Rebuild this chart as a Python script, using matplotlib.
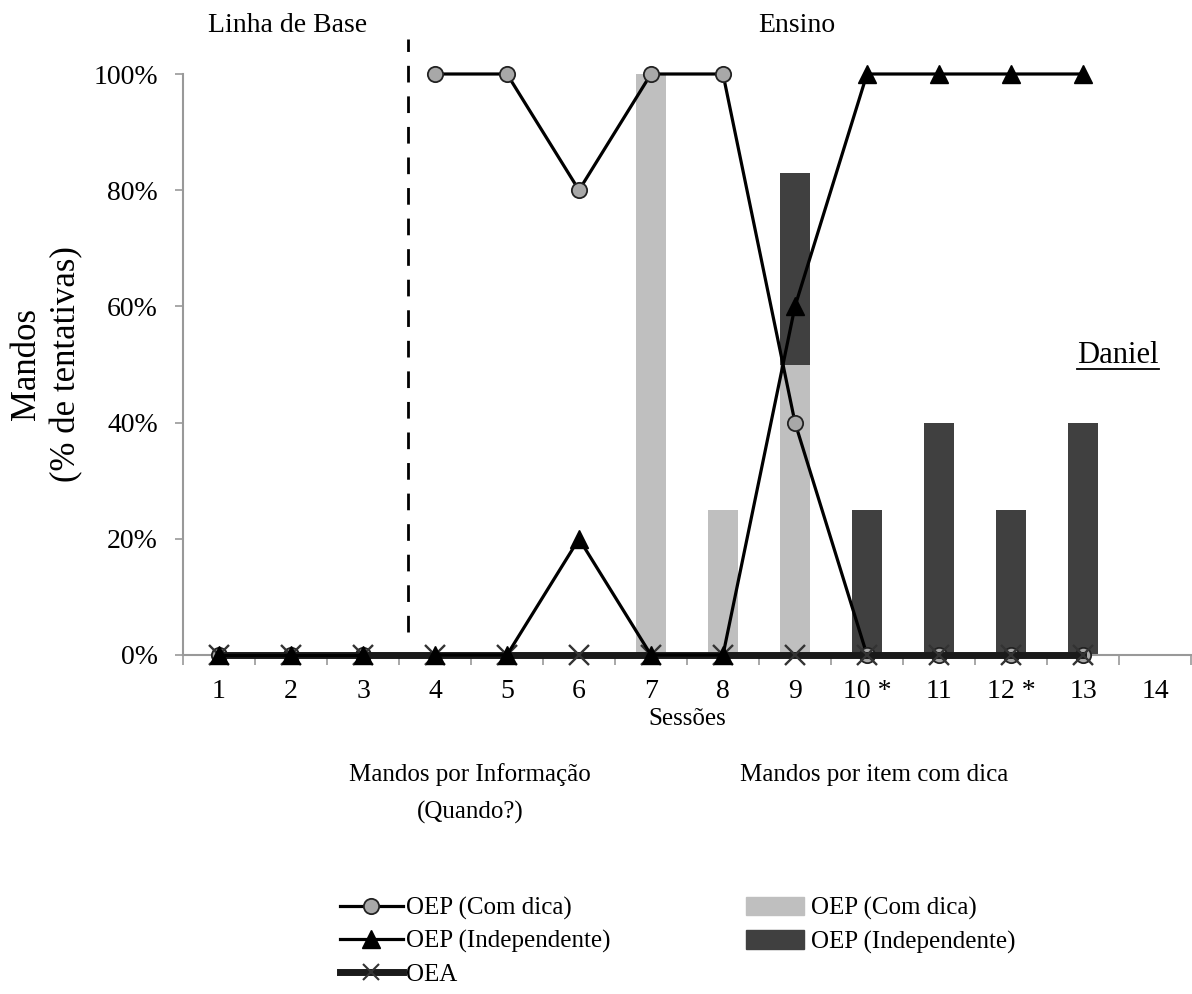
import matplotlib
matplotlib.use('Agg')
import matplotlib.pyplot as plt
from matplotlib.lines import Line2D
from matplotlib.patches import Patch

plt.rcParams['font.family'] = ['Liberation Serif', 'DejaVu Serif']

# dados
sessoes = list(range(1, 15))
rotulos = ['1', '2', '3', '4', '5', '6', '7', '8', '9', '10 *', '11', '12 *', '13', '14']

sess_base = [1, 2, 3]
sess_ensino = [4, 5, 6, 7, 8, 9, 10, 11, 12, 13]
info_dica_base = [0, 0, 0]
info_dica_ensino = [100, 100, 80, 100, 100, 40, 0, 0, 0, 0]
info_indep_base = [0, 0, 0]
info_indep_ensino = [0, 0, 20, 0, 0, 60, 100, 100, 100, 100]
sess_oea = [1, 2, 3, 4, 5, 6, 7, 8, 9, 10, 11, 12, 13]
oea = [0, 0, 0, 0, 0, 0, 0, 0, 0, 0, 0, 0, 0]

sess_barras = [7, 8, 9, 10, 11, 12, 13]
item_dica = [100, 25, 50, 0, 0, 0, 0]
item_indep = [0, 0, 33, 25, 40, 25, 40]

W, H = 1192, 994
fig = plt.figure(figsize=(W / 100, H / 100), dpi=100)
ax = fig.add_axes([183 / W, 1 - 655 / H, 1008 / W, 581 / H])

# barras empilhadas
ax.bar(sess_barras, item_dica, width=0.42, color='#bfbfbf', zorder=1)
ax.bar(sess_barras, item_indep, width=0.42, bottom=item_dica, color='#404040', zorder=1)

# linhas
circ = dict(color='black', lw=2.3, marker='o', ms=11, mfc='#a8a8a8', mec='#222222', mew=1.3)
tri = dict(color='black', lw=2.3, marker='^', ms=12.5, mfc='black', mec='black')
xs = dict(color='#1a1a1a', lw=5, marker='x', ms=14, mew=1.7, mec='#333333')
ax.plot(sess_base, info_dica_base, zorder=3, clip_on=False, **circ)
ax.plot(sess_ensino, info_dica_ensino, zorder=3, clip_on=False, **circ)
ax.plot(sess_oea, oea, zorder=4, clip_on=False, **xs)
ax.plot(sess_base, info_indep_base, zorder=5, clip_on=False, **tri)
ax.plot(sess_ensino, info_indep_ensino, zorder=5, clip_on=False, **tri)

# linha de mudanca de fase
ax.plot([3.62, 3.62], [4, 106], color='black', lw=2, ls=(0, (6, 5)), clip_on=False, zorder=2)

ax.set_xlim(0.5, 14.5)
ax.set_ylim(0, 100)
ax.set_xticks(sessoes)
ax.set_xticklabels(rotulos, fontsize=20)
ax.set_xticks([s + 0.5 for s in range(0, 15)], minor=True)
ax.tick_params(axis='x', which='major', length=0, pad=17)
ax.tick_params(axis='x', which='minor', length=7, width=1.2, color='#999999', direction='out')
ax.set_yticks([0, 20, 40, 60, 80, 100])
ax.set_yticklabels(['0%', '20%', '40%', '60%', '80%', '100%'], fontsize=20)
ax.tick_params(axis='y', length=6, width=1.2, color='#999999', pad=12)

for s in ['top', 'right']:
    ax.spines[s].set_visible(False)
for s in ['left', 'bottom']:
    ax.spines[s].set_color('#999999')
    ax.spines[s].set_linewidth(1.5)

ax.set_xlabel('Sessões', fontsize=18, labelpad=3)
ax.set_ylabel('Mandos\n(% de tentativas)', fontsize=25, labelpad=7, linespacing=1.3)

# textos
fig.text(288 / W, 1 - 25 / H, 'Linha de Base', fontsize=20, ha='center', va='center')
fig.text(797 / W, 1 - 25 / H, 'Ensino', fontsize=20, ha='center', va='center')
dan = fig.text(1118 / W, 1 - 355 / H, 'Daniel', fontsize=22, ha='center', va='center')
fig.canvas.draw()
bb = dan.get_window_extent().transformed(fig.transFigure.inverted())
fig.add_artist(Line2D([bb.x0, bb.x1], [bb.y0 + 0.001, bb.y0 + 0.001], color='black', lw=1.3))

# legendas
fig.text(470 / W, 1 - 775 / H, 'Mandos por Informação', fontsize=18, ha='center', va='center')
fig.text(470 / W, 1 - 812 / H, '(Quando?)', fontsize=18, ha='center', va='center')
fig.text(740 / W, 1 - 775 / H, 'Mandos por item com dica', fontsize=18, ha='left', va='center')

h1 = [Line2D([], [], **circ),
      Line2D([], [], **tri),
      Line2D([], [], color='#1a1a1a', lw=5, marker='x', ms=11, mew=1.5, mec='#333333')]
fig.legend(h1, ['OEP (Com dica)', 'OEP (Independente)', 'OEA'], loc='upper left',
           bbox_to_anchor=(340 / W, 1 - 897 / H), frameon=False, fontsize=18,
           handlelength=2.5, handletextpad=0.15, labelspacing=0.4, borderpad=0, borderaxespad=0)
h2 = [Patch(color='#bfbfbf'), Patch(color='#404040')]
fig.legend(h2, ['OEP (Com dica)', 'OEP (Independente)'], loc='upper left',
           bbox_to_anchor=(746 / W, 1 - 897 / H), frameon=False, fontsize=18,
           handlelength=2.3, handleheight=0.75, handletextpad=0.3, labelspacing=0.4,
           borderpad=0, borderaxespad=0)

plt.savefig('out.png', dpi=100)
